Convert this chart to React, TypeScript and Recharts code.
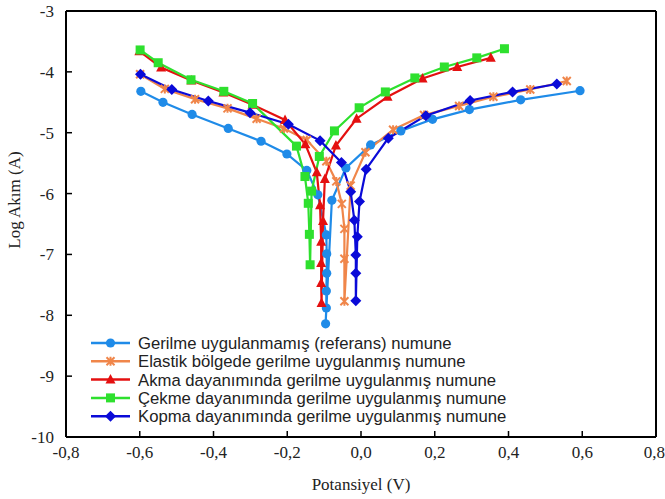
import { LineChart, Line, XAxis, YAxis, Legend, ReferenceLine } from "recharts"

// potential (V) and log current (A)
const referansV = [-0.597, -0.537, -0.458, -0.36, -0.271, -0.201, -0.147, -0.117, -0.094, -0.093, -0.093, -0.094, -0.094, -0.096, -0.079, -0.041, 0.026, 0.108, 0.194, 0.294, 0.433, 0.594]
const referansI = [-4.32, -4.5, -4.7, -4.93, -5.14, -5.35, -5.62, -6.02, -6.68, -6.99, -7.31, -7.6, -7.88, -8.14, -6.11, -5.58, -5.2, -4.97, -4.78, -4.62, -4.46, -4.31]

const elastikV = [-0.599, -0.532, -0.45, -0.362, -0.283, -0.209, -0.147, -0.094, -0.067, -0.052, -0.045, -0.045, -0.045, -0.028, 0.012, 0.087, 0.171, 0.266, 0.359, 0.459, 0.558]
const elastikI = [-4.04, -4.28, -4.45, -4.6, -4.77, -4.93, -5.12, -5.47, -5.8, -6.17, -6.58, -7.07, -7.77, -5.87, -5.32, -4.95, -4.71, -4.56, -4.41, -4.29, -4.15]

const akmaV = [-0.601, -0.542, -0.46, -0.373, -0.294, -0.206, -0.151, -0.12, -0.111, -0.108, -0.108, -0.108, -0.107, -0.103, -0.098, -0.068, -0.012, 0.072, 0.167, 0.261, 0.352]
const akmaI = [-3.66, -3.93, -4.14, -4.34, -4.54, -4.79, -5.19, -5.65, -6.19, -6.79, -7.14, -7.47, -7.8, -6.45, -5.76, -5.21, -4.77, -4.41, -4.11, -3.92, -3.77]

const cekmeV = [-0.599, -0.55, -0.461, -0.372, -0.294, -0.175, -0.152, -0.143, -0.14, -0.138, -0.134, -0.113, -0.072, -0.005, 0.066, 0.146, 0.226, 0.314, 0.389]
const cekmeI = [-3.64, -3.85, -4.13, -4.32, -4.52, -5.22, -5.72, -6.16, -6.67, -7.17, -5.96, -5.39, -4.97, -4.59, -4.33, -4.1, -3.92, -3.77, -3.62]

const kopmaV = [-0.598, -0.513, -0.414, -0.301, -0.197, -0.111, -0.053, -0.028, -0.018, -0.014, -0.014, -0.014, -0.01, -0.004, 0.014, 0.074, 0.176, 0.296, 0.411, 0.531]
const kopmaI = [-4.04, -4.29, -4.48, -4.67, -4.86, -5.13, -5.49, -5.97, -6.44, -7.01, -7.31, -7.76, -6.71, -6.13, -5.6, -5.09, -4.72, -4.47, -4.33, -4.2]

const xTicks = [-0.8, -0.6, -0.4, -0.2, 0, 0.2, 0.4, 0.6, 0.8]
const yTicks = [-10, -9, -8, -7, -6, -5, -4, -3]

const zip = (v: number[], i: number[]) => v.map((x, k) => ({ x, y: i[k] }))

type Marker = "circle" | "star" | "triangle" | "square" | "diamond"

const series: { name: string; color: string; marker: Marker; data: { x: number; y: number }[] }[] = [
  { name: "Gerilme uygulanmamış (referans) numune", color: "#1f8be8", marker: "circle", data: zip(referansV, referansI) },
  { name: "Elastik bölgede gerilme uygulanmış numune", color: "#f0864a", marker: "star", data: zip(elastikV, elastikI) },
  { name: "Akma dayanımında gerilme uygulanmış numune", color: "#e41010", marker: "triangle", data: zip(akmaV, akmaI) },
  { name: "Çekme dayanımında gerilme uygulanmış numune", color: "#2ee02e", marker: "square", data: zip(cekmeV, cekmeI) },
  { name: "Kopma dayanımında gerilme uygulanmış numune", color: "#0a0ad8", marker: "diamond", data: zip(kopmaV, kopmaI) },
]

function markerShape(marker: Marker, color: string, cx: number, cy: number, key?: any) {
  switch (marker) {
    case "circle":
      return <circle key={key} cx={cx} cy={cy} r={4.6} fill={color} />
    case "square":
      return <rect key={key} x={cx - 4.5} y={cy - 4.5} width={9} height={9} fill={color} />
    case "triangle":
      return <path key={key} d={`M${cx},${cy - 5.5}L${cx + 5},${cy + 4}L${cx - 5},${cy + 4}Z`} fill={color} />
    case "diamond":
      return <path key={key} d={`M${cx},${cy - 5.5}L${cx + 5.5},${cy}L${cx},${cy + 5.5}L${cx - 5.5},${cy}Z`} fill={color} />
    case "star":
      return (
        <g key={key} stroke={color} strokeWidth={2}>
          <path d={`M${cx - 4},${cy - 4}L${cx + 4},${cy + 4}M${cx - 4},${cy + 4}L${cx + 4},${cy - 4}M${cx},${cy - 4.5}L${cx},${cy + 4.5}`} />
        </g>
      )
  }
}

const fmt = (v: number) => (Math.abs(v) < 1e-9 ? "0,0" : v.toFixed(1).replace(".", ","))

function LegendBox() {
  return (
    <svg width={440} height={96}>
      {series.map((s, i) => {
        const y = 9 + i * 18.3
        return (
          <g key={s.name}>
            <line x1={0} x2={39} y1={y} y2={y} stroke={s.color} strokeWidth={2.5} />
            {markerShape(s.marker, s.color, 19.5, y)}
            <text x={47} y={y} dy="0.36em" fontFamily="'Liberation Sans', Arial, sans-serif" fontSize={16.7} fill="#222">
              {s.name}
            </text>
          </g>
        )
      })}
    </svg>
  )
}

const axisFont = { fontFamily: "'Liberation Serif', 'Times New Roman', serif", fontSize: 17, fill: "#222" }

export default function App() {
  return (
    <div style={{ position: "absolute", left: 0, top: 0, width: 665, height: 499, background: "#fff" }}>
      <LineChart width={665} height={499} margin={{ top: 11, right: 9, left: 0, bottom: 0 }}>
        <XAxis
          type="number"
          dataKey="x"
          domain={[-0.8, 0.8]}
          ticks={xTicks}
          tickFormatter={fmt}
          allowDataOverflow
          height={62}
          tick={axisFont}
          tickSize={-6}
          tickMargin={15}
          axisLine={{ stroke: "#000", strokeWidth: 2 }}
          tickLine={{ stroke: "#000", strokeWidth: 1.5 }}
          label={{
            content: () => (
              <text x={361} y={490} textAnchor="middle" {...axisFont}>
                Potansiyel (V)
              </text>
            ),
          }}
        />
        <YAxis
          type="number"
          dataKey="y"
          domain={[-10, -3]}
          ticks={yTicks}
          allowDataOverflow
          width={66}
          tick={axisFont}
          tickSize={-6}
          tickMargin={18}
          axisLine={{ stroke: "#000", strokeWidth: 2 }}
          tickLine={{ stroke: "#000", strokeWidth: 1.5 }}
          label={{
            content: () => (
              <text x={20} y={200} textAnchor="middle" transform="rotate(-90 20 200)" {...axisFont}>
                Log Akım (A)
              </text>
            ),
          }}
        />
        <ReferenceLine y={-3} stroke="#000" strokeWidth={2} />
        <ReferenceLine x={0.8} stroke="#000" strokeWidth={2} />
        {series.map((s) => (
          <Line
            key={s.name}
            data={s.data}
            dataKey="y"
            name={s.name}
            type="linear"
            stroke={s.color}
            strokeWidth={2.2}
            isAnimationActive={false}
            dot={(p: any) => markerShape(s.marker, s.color, p.cx, p.cy, p.index)}
            activeDot={false}
          />
        ))}
        <Legend
          layout="vertical"
          align="center"
          verticalAlign="middle"
          wrapperStyle={{ left: 91, top: 334, width: 440 }}
          content={() => <LegendBox />}
        />
      </LineChart>
    </div>
  )
}
